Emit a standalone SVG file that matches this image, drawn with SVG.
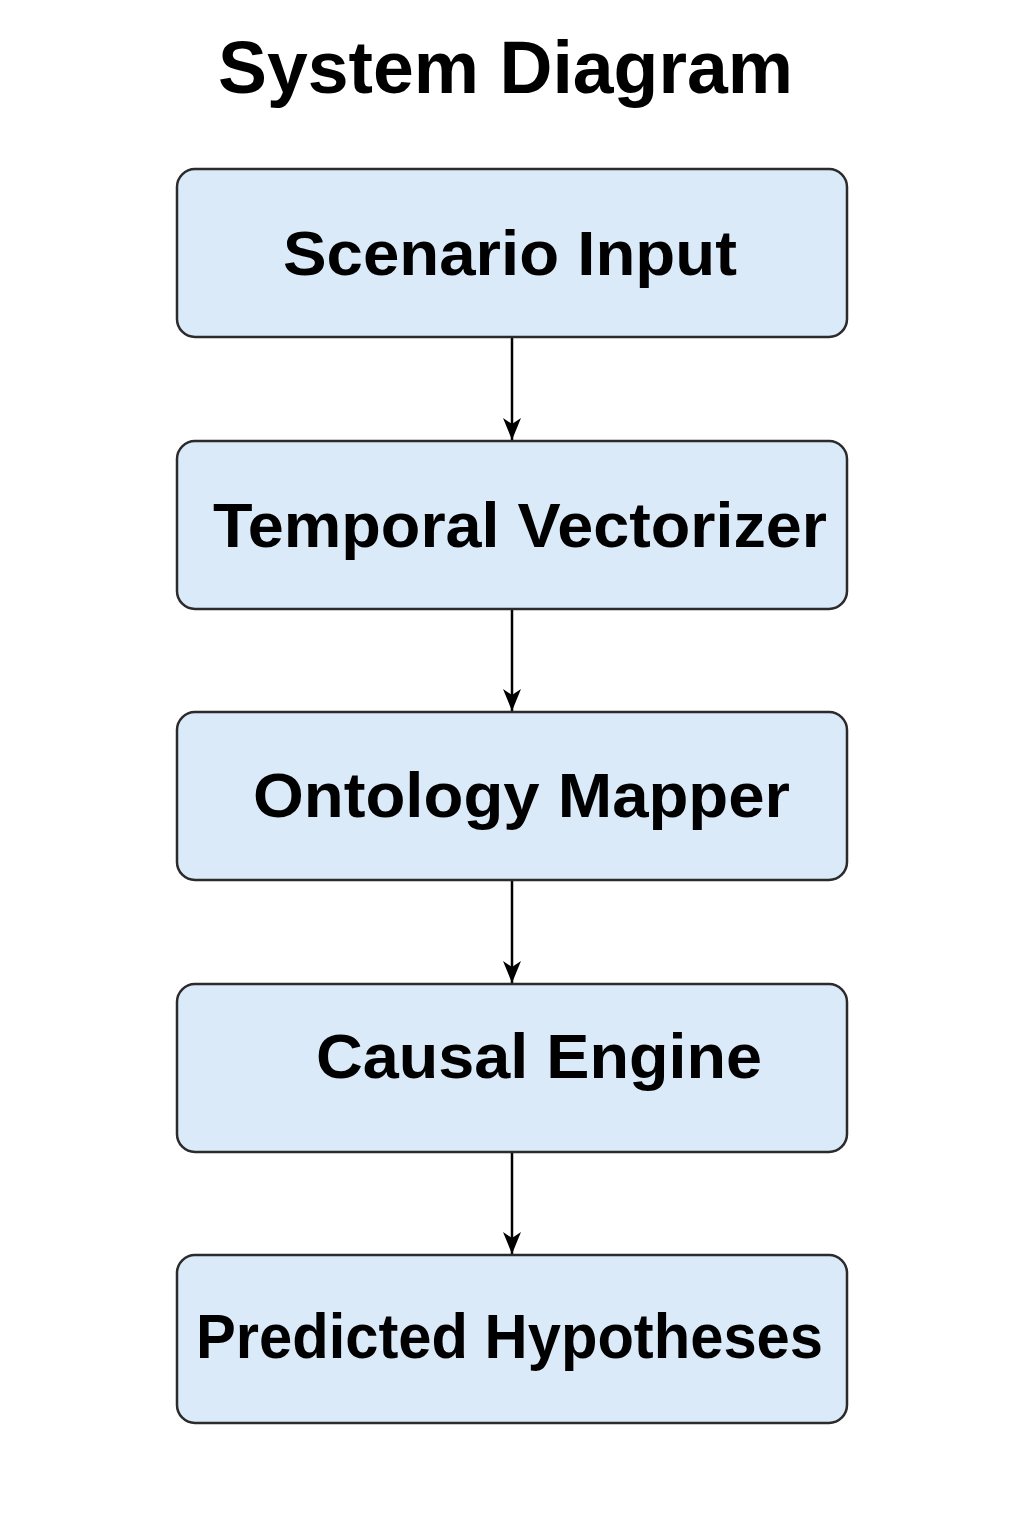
<svg xmlns="http://www.w3.org/2000/svg" width="1024" height="1536" viewBox="0 0 1024 1536">
<style>
.box{fill:#dbeaf8;stroke:#2b2b2b;stroke-width:2.5}
.lbl{font-family:"Liberation Sans",Arial,sans-serif;font-weight:bold;font-size:63px;fill:#000}
.title{font-family:"Liberation Sans",Arial,sans-serif;font-weight:bold;font-size:74px;fill:#000}
.conn{stroke:#000;stroke-width:2.5;fill:none}
</style>
<defs>
<marker id="ah" markerWidth="22" markerHeight="18" refX="22" refY="9" orient="auto" markerUnits="userSpaceOnUse" viewBox="0 0 22 18">
<path d="M0,0 L22,9 L0,18 L6,9 Z" fill="#000"/>
</marker>
</defs>
<rect width="1024" height="1536" fill="#fff"/>
<text class="title" x="218" y="93" textLength="575" lengthAdjust="spacingAndGlyphs">System Diagram</text>
<g id="connectors">
<line class="conn" x1="512" y1="338" x2="512" y2="440" marker-end="url(#ah)"/>
<line class="conn" x1="512" y1="610" x2="512" y2="711" marker-end="url(#ah)"/>
<line class="conn" x1="512" y1="881" x2="512" y2="983" marker-end="url(#ah)"/>
<line class="conn" x1="512" y1="1153" x2="512" y2="1254" marker-end="url(#ah)"/>
</g>
<g id="scenario-input">
<rect class="box" x="177" y="169" width="670" height="168" rx="18"/>
<text class="lbl" x="283" y="275" textLength="454" lengthAdjust="spacingAndGlyphs">Scenario Input</text>
</g>
<g id="temporal-vectorizer">
<rect class="box" x="177" y="441" width="670" height="168" rx="18"/>
<text class="lbl" x="213" y="547" textLength="614" lengthAdjust="spacingAndGlyphs">Temporal Vectorizer</text>
</g>
<g id="ontology-mapper">
<rect class="box" x="177" y="712" width="670" height="168" rx="18"/>
<text class="lbl" x="253" y="817" textLength="537" lengthAdjust="spacingAndGlyphs">Ontology Mapper</text>
</g>
<g id="causal-engine">
<rect class="box" x="177" y="984" width="670" height="168" rx="18"/>
<text class="lbl" x="316" y="1078" textLength="446" lengthAdjust="spacingAndGlyphs">Causal Engine</text>
</g>
<g id="predicted-hypotheses">
<rect class="box" x="177" y="1255" width="670" height="168" rx="18"/>
<text class="lbl" x="196" y="1358" textLength="627" lengthAdjust="spacingAndGlyphs">Predicted Hypotheses</text>
</g>
</svg>
